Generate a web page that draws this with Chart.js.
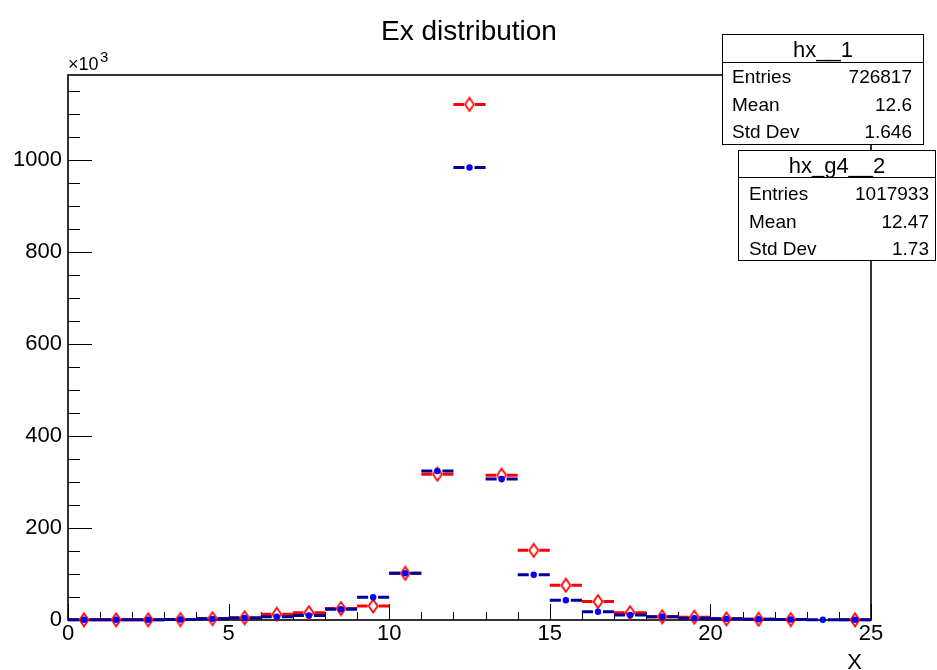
<!DOCTYPE html>
<html>
<head>
<meta charset="utf-8">
<script src="https://cdn.jsdelivr.net/npm/chart.js@4.4.1/dist/chart.umd.min.js"></script>
<style>
  html, body { margin: 0; padding: 0; background: #fff; }
  #c { display: block; }
</style>
</head>
<body>
<canvas id="c" width="937" height="670"></canvas>
<script>
// bin centres of Ex (25 bins, width 1)
var bins = [0.5, 1.5, 2.5, 3.5, 4.5, 5.5, 6.5, 7.5, 8.5, 9.5, 10.5, 11.5, 12.5,
  13.5, 14.5, 15.5, 16.5, 17.5, 18.5, 19.5, 20.5, 21.5, 22.5, 23.5, 24.5];
// bin contents, x10^3
var hx1 = [0.5, 0.5, 0.5, 1, 3, 5, 12.5, 16, 25, 30.5, 101.5, 317, 1121,
  315, 151.5, 75.5, 40, 16, 7, 6, 2.5, 1.5, 1, null, 0.5];
var hxG4 = [0.5, 0.5, 0.5, 1, 2.5, 4.5, 7, 10, 23.5, 49.5, 101.5, 324, 984,
  306.5, 98.5, 43, 18, 11, 7, 4, 2.5, 1.5, 1, 0.5, 0.5];
var xTicks = [0, 5, 10, 15, 20, 25];
var yTicks = [0, 200, 400, 600, 800, 1000];

var stats = [
  { name: "hx__1", rows: [["Entries", "726817"], ["Mean", "12.6"], ["Std Dev", "1.646"]] },
  { name: "hx_g4__2", rows: [["Entries", "1017933"], ["Mean", "12.47"], ["Std Dev", "1.73"]] }
];

var FONT = '"Liberation Sans", Arial, Helvetica, sans-serif';

function toPoints(vals) {
  var out = [];
  bins.forEach(function (x, i) {
    if (vals[i] !== null) out.push({ x: x, y: vals[i] });
  });
  return out;
}

// open diamond marker like ROOT style 27
function diamond(color) {
  var c = document.createElement('canvas');
  c.width = 12; c.height = 16;
  var g = c.getContext('2d');
  g.strokeStyle = color;
  g.lineWidth = 1.8;
  g.beginPath();
  g.moveTo(6, 1.5); g.lineTo(10.5, 8); g.lineTo(6, 14.5); g.lineTo(1.5, 8);
  g.closePath();
  g.stroke();
  return c;
}

// horizontal bin-width bars with a gap around the marker
var binBars = {
  id: 'binBars',
  beforeDatasetDraw: function (chart, args) {
    var ds = chart.data.datasets[args.index];
    var xs = chart.scales.x, ys = chart.scales.y, ctx = chart.ctx;
    ctx.save();
    ctx.strokeStyle = ds.barColor;
    ctx.lineWidth = 3;
    ctx.beginPath();
    ds.data.forEach(function (p) {
      var y = ys.getPixelForValue(p.y);
      var x0 = xs.getPixelForValue(p.x - 0.5);
      var x1 = xs.getPixelForValue(p.x + 0.5);
      var xc = xs.getPixelForValue(p.x);
      ctx.moveTo(x0, y); ctx.lineTo(xc - ds.gap, y);
      ctx.moveTo(xc + ds.gap, y); ctx.lineTo(x1, y);
    });
    ctx.stroke();
    ctx.restore();
  }
};

// ROOT-like frame with inward ticks
var frame = {
  id: 'frame',
  beforeDatasetsDraw: function (chart) {
    var a = chart.chartArea, ctx = chart.ctx;
    var xs = chart.scales.x, ys = chart.scales.y;
    ctx.save();
    ctx.strokeStyle = '#000';
    ctx.lineWidth = 1;
    ctx.beginPath();
    for (var v = 0; v <= 25; v += 1) {
      var px = Math.round(xs.getPixelForValue(v)) + 0.5;
      ctx.moveTo(px, a.bottom);
      ctx.lineTo(px, a.bottom - (v % 5 === 0 ? 16 : 8));
    }
    for (var w = 0; w <= ys.max; w += 50) {
      var py = Math.round(ys.getPixelForValue(w)) + 0.5;
      ctx.moveTo(a.left, py);
      ctx.lineTo(a.left + (w % 200 === 0 ? 24 : 12), py);
    }
    ctx.stroke();
    ctx.lineWidth = 1.6;
    ctx.strokeRect(a.left, a.top, a.right - a.left, a.bottom - a.top);
    ctx.restore();
  },
  afterDraw: function (chart) {
    var a = chart.chartArea, ctx = chart.ctx;
    ctx.save();
    ctx.fillStyle = '#000';
    // title
    ctx.font = '28px ' + FONT;
    ctx.textAlign = 'center';
    ctx.textBaseline = 'alphabetic';
    ctx.fillText('Ex distribution', 469, 40);
    // exponent
    ctx.textAlign = 'left';
    ctx.font = '18px ' + FONT;
    ctx.fillText('\u00d710', a.left, 70);
    ctx.font = '15px ' + FONT;
    ctx.fillText('3', 100, 62);
    // axis title
    ctx.font = '22px ' + FONT;
    ctx.textAlign = 'right';
    ctx.fillText('X', 862, 669);
    // stats boxes
    var boxes = [
      { x: 722.5, y: 34.5, w: 201, h: 110, sep: 62, tb: 57, rows: [83, 111, 138], lx: 732, rx: 912 },
      { x: 738.5, y: 150.5, w: 197, h: 110, sep: 177, tb: 173, rows: [200, 228, 255], lx: 749, rx: 929 }
    ];
    boxes.forEach(function (b, i) {
      var s = stats[i];
      ctx.fillStyle = '#fff';
      ctx.fillRect(b.x, b.y, b.w, b.h);
      ctx.strokeStyle = '#000';
      ctx.lineWidth = 1;
      ctx.strokeRect(b.x, b.y, b.w, b.h);
      ctx.beginPath();
      ctx.moveTo(b.x, b.sep + 0.5); ctx.lineTo(b.x + b.w, b.sep + 0.5);
      ctx.stroke();
      ctx.fillStyle = '#000';
      ctx.font = '22px ' + FONT;
      ctx.textAlign = 'center';
      ctx.fillText(s.name, b.x + b.w / 2, b.tb);
      ctx.font = '19px ' + FONT;
      s.rows.forEach(function (r, k) {
        ctx.textAlign = 'left';
        ctx.fillText(r[0], b.lx, b.rows[k]);
        ctx.textAlign = 'right';
        ctx.fillText(r[1], b.rx, b.rows[k]);
      });
    });
    ctx.restore();
  }
};

var context = document.getElementById('c');
var chart = new Chart(context, {
  type: 'scatter',
  data: {
    datasets: [
      {
        label: 'hx__1',
        data: toPoints(hx1),
        pointStyle: diamond('#ff0000'),
        barColor: '#ff0000',
        gap: 5.5,
        order: 2,
        clip: false
      },
      {
        label: 'hx_g4__2',
        data: toPoints(hxG4),
        pointStyle: 'circle',
        pointRadius: 3.2,
        pointBackgroundColor: '#0000ff',
        pointBorderWidth: 0,
        barColor: '#00009a',
        gap: 5,
        order: 1,
        clip: false
      }
    ]
  },
  options: {
    responsive: false,
    devicePixelRatio: 1,
    animation: false,
    events: [],
    layout: { padding: { left: 0, top: 75, right: 66, bottom: 0 } },
    plugins: { legend: { display: false }, tooltip: { enabled: false }, title: { display: false } },
    scales: {
      x: {
        type: 'linear', min: 0, max: 25,
        afterFit: function (s) { s.height = 50; },
        afterBuildTicks: function (s) { s.ticks = xTicks.map(function (v) { return { value: v }; }); },
        grid: { display: false, drawTicks: false },
        border: { display: false },
        ticks: { color: '#000', font: { family: FONT, size: 22 }, padding: 1, maxRotation: 0,
          callback: function (v) { return String(v); } }
      },
      y: {
        type: 'linear', min: 0, max: 1185,
        afterFit: function (s) { s.width = 68; },
        afterBuildTicks: function (s) { s.ticks = yTicks.map(function (v) { return { value: v }; }); },
        grid: { display: false, drawTicks: false },
        border: { display: false },
        ticks: { color: '#000', font: { family: FONT, size: 22 }, padding: 6,
          callback: function (v) { return String(v); } }
      }
    }
  },
  plugins: [binBars, frame]
});
</script>
</body>
</html>
